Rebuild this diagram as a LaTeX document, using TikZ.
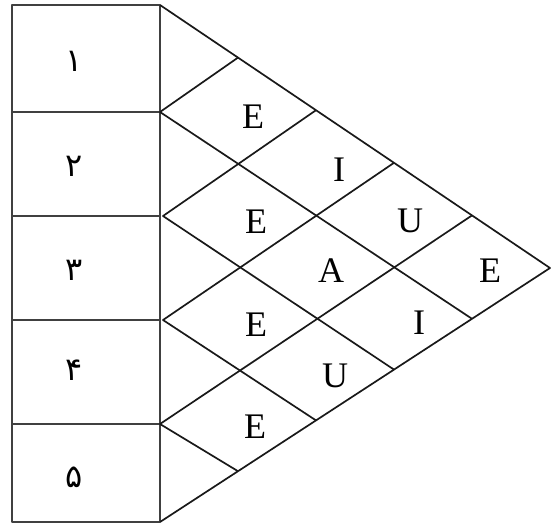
\documentclass[tikz,border=0pt]{standalone}
\usepackage{fontspec}
\setmainfont{Liberation Serif}
\newfontfamily\arabicfont[Script=Arabic]{DejaVu Sans}
\TeXXeTstate=1
\begin{document}
\begin{tikzpicture}[x=1pt,y=-1pt,line width=1.7pt,line join=round,
  edge/.style={draw=black!90},
  boxline/.style={line width=2pt,draw=black!75},
  letter/.style={inner sep=0pt,font=\fontsize{36}{36}\selectfont},
  digit/.style={inner sep=0pt,font=\arabicfont\fontsize{32}{32}\selectfont}]
\useasboundingbox (0,0) rectangle (551,524);
% left column
\coordinate (c0) at (12,5);
\coordinate (c5) at (160,522);
\draw[boxline] (c0) rectangle (c5);
\foreach \y in {112,216,320,424}{\draw[boxline] (12,\y) -- (160,\y);}
% triangle points
\coordinate (T0) at (160,5);
\coordinate (Tip) at (550,268);
\coordinate (B0) at (160,522);
\foreach \k in {1,2,3,4}{
  \coordinate (T\k) at ({160+78*\k},{5+52.6*\k});
  \coordinate (B\k) at ({160+78*\k},{522-50.8*\k});
}
\coordinate (L1) at (160,112);
\coordinate (L2) at (163,216);
\coordinate (L3) at (163,320);
\coordinate (L4) at (160,424);
\draw[edge] (T0) -- (Tip) -- (B0);
\draw[edge] (T1) -- (L1) -- (B4);
\draw[edge] (T2) -- (L2) -- (B3);
\draw[edge] (T3) -- (L3) -- (B2);
\draw[edge] (T4) -- (L4) -- (B1);
% digits
\node[digit] (d1) at (74,61) {۱};
\node[digit] (d2) at (74,166) {۲};
\node[digit] (d3) at (74,270) {۳};
\node[digit] (d4) at (74,370) {۴};
\node[digit] (d5) at (74,477) {۵};
% letters
\node[letter] (e1) at (253,117) {E};
\node[letter] (i1) at (339,170) {I};
\node[letter] (e2) at (256,222) {E};
\node[letter] (u1) at (410,221) {U};
\node[letter] (a1) at (331,271) {A};
\node[letter] (e3) at (490,271) {E};
\node[letter] (e4) at (256,325) {E};
\node[letter] (i2) at (419,323) {I};
\node[letter] (u2) at (335,376) {U};
\node[letter] (e5) at (255,427) {E};
\end{tikzpicture}
\end{document}
